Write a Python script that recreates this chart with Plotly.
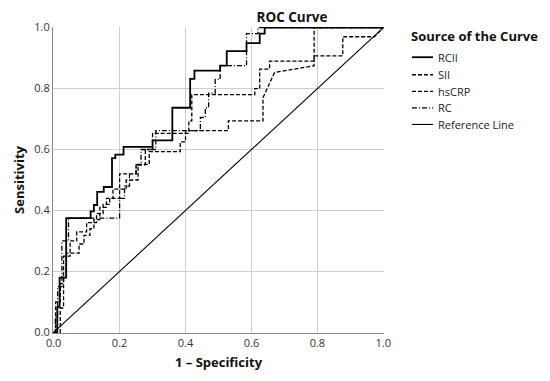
import plotly.graph_objects as go

# ROC step curves: (1 - specificity, sensitivity) vertices
rcii_x = [0, 0.011, 0.011, 0.018, 0.018, 0.038, 0.038, 0.112, 0.112, 0.122, 0.122, 0.132, 0.132, 0.152, 0.152,
          0.177, 0.177, 0.187, 0.187, 0.212, 0.212, 0.233, 0.233, 0.30, 0.30, 0.36, 0.36, 0.414, 0.414, 0.427,
          0.427, 0.505, 0.505, 0.525, 0.525, 0.585, 0.585, 0.625, 0.625, 0.64, 0.64, 1.0]
rcii_y = [0, 0, 0.084, 0.084, 0.18, 0.18, 0.375, 0.375, 0.397, 0.397, 0.418, 0.418, 0.461, 0.461, 0.477,
          0.477, 0.572, 0.572, 0.583, 0.583, 0.609, 0.609, 0.609, 0.609, 0.63, 0.63, 0.737, 0.737, 0.832, 0.832,
          0.859, 0.859, 0.875, 0.875, 0.923, 0.923, 0.949, 0.949, 0.98, 0.98, 1.0, 1.0]

sii_x = [0, 0.02, 0.02, 0.03, 0.03, 0.038, 0.038, 0.077, 0.077, 0.092, 0.092, 0.11, 0.11, 0.122, 0.122,
         0.14, 0.14, 0.16, 0.16, 0.18, 0.18, 0.20, 0.20, 0.25, 0.25, 0.278, 0.278, 0.30, 0.30, 0.41, 0.41,
         0.419, 0.419, 0.61, 0.61, 0.625, 0.625, 0.655, 0.655, 0.79, 0.79, 1.0]
sii_y = [0, 0, 0.08, 0.08, 0.18, 0.18, 0.26, 0.26, 0.29, 0.29, 0.318, 0.318, 0.34, 0.34, 0.37,
         0.37, 0.41, 0.41, 0.44, 0.44, 0.47, 0.47, 0.52, 0.52, 0.55, 0.55, 0.60, 0.60, 0.653, 0.653, 0.694,
         0.694, 0.78, 0.78, 0.80, 0.80, 0.864, 0.864, 0.89, 0.89, 1.0, 1.0]

hscrp_x = [0, 0.006, 0.006, 0.02, 0.02, 0.03, 0.03, 0.05, 0.05, 0.07, 0.07, 0.10, 0.10, 0.13, 0.13,
           0.15, 0.15, 0.17, 0.17, 0.20, 0.20, 0.22, 0.22, 0.256, 0.256, 0.29, 0.29, 0.384, 0.384, 0.40, 0.40,
           0.53, 0.53, 0.635, 0.635, 0.67, 0.79, 0.79, 0.877, 0.877, 0.973, 1.0]
hscrp_y = [0, 0, 0.10, 0.10, 0.16, 0.16, 0.25, 0.25, 0.30, 0.30, 0.33, 0.33, 0.36, 0.36, 0.39,
           0.39, 0.42, 0.42, 0.44, 0.44, 0.47, 0.47, 0.50, 0.50, 0.551, 0.551, 0.593, 0.593, 0.625, 0.625, 0.662,
           0.662, 0.694, 0.694, 0.77, 0.853, 0.875, 0.907, 0.907, 0.97, 0.97, 1.0]

rc_x = [0, 0.005, 0.005, 0.012, 0.012, 0.025, 0.025, 0.045, 0.045, 0.20, 0.20, 0.215, 0.215, 0.23, 0.23,
        0.25, 0.25, 0.265, 0.265, 0.31, 0.31, 0.445, 0.445, 0.46, 0.46, 0.47, 0.47, 0.49, 0.49, 0.505, 0.505,
        0.585, 0.585, 0.62, 0.62, 1.0]
rc_y = [0, 0, 0.05, 0.05, 0.15, 0.15, 0.30, 0.30, 0.375, 0.375, 0.44, 0.44, 0.48, 0.48, 0.52,
        0.52, 0.55, 0.55, 0.60, 0.60, 0.662, 0.662, 0.705, 0.705, 0.737, 0.737, 0.785, 0.785, 0.83, 0.83, 0.875,
        0.875, 0.98, 0.98, 1.0, 1.0]

ref_x = [0, 1]
ref_y = [0, 1]

tick_vals = [0, 0.2, 0.4, 0.6, 0.8, 1.0]
tick_text = ["0.0", "0.2", "0.4", "0.6", "0.8", "1.0"]

legend_title = "Source of the Curve"
series_names = ["RCII", "SII", "hsCRP", "RC", "Reference Line"]

FONT = "Open Sans"

styles = [
    dict(color="black", width=1.8),
    dict(color="black", width=1.3, dash="4px,2px"),
    dict(color="black", width=1.3, dash="4px,2px"),
    dict(color="black", width=1.3, dash="5px,2px,1px,2px"),
    dict(color="black", width=1.1),
]
xs = [rcii_x, sii_x, hscrp_x, rc_x, ref_x]
ys = [rcii_y, sii_y, hscrp_y, rc_y, ref_y]

fig = go.Figure()
for name, x, y, st in zip(series_names, xs, ys, styles):
    fig.add_trace(go.Scatter(x=x, y=y, mode="lines", name=name, line=st, showlegend=False))

# page is drawn with an 8px body margin; the plot area sits at page px x 53..384, y 19..333
PL, PR, PT, PB = 53, 384, 19, 333
W, H = 542, 373
OFF = 8


def px2x(px):
    return (px - PL) / (PR - PL)


def py2y(py):
    return (PB - py) / (PB - PT)


annotations = [dict(text="<b>" + legend_title + "</b>", xref="paper", yref="paper",
                    x=px2x(409), y=py2y(28), xanchor="left", yanchor="middle", showarrow=False,
                    font=dict(family=FONT, size=13, color="#111"))]
shapes = []
item_py = [50, 68, 85, 102, 119]
for name, st, py in zip(series_names, styles, item_py):
    shapes.append(dict(type="line", xref="paper", yref="paper",
                       x0=px2x(412), x1=px2x(433), y0=py2y(py), y1=py2y(py),
                       line=dict(color=st["color"], width=st["width"], dash=st.get("dash", "solid"))))
    annotations.append(dict(text=name, xref="paper", yref="paper", x=px2x(436), y=py2y(py),
                            xanchor="left", yanchor="middle", showarrow=False,
                            font=dict(family=FONT, size=11, color="#222")))

fig.update_layout(
    width=W, height=H,
    margin=dict(l=PL - OFF, r=W - (PR - OFF), t=PT - OFF, b=H - (PB - OFF)),
    paper_bgcolor="white", plot_bgcolor="white",
    font=dict(family=FONT, size=11, color="#222"),
    title=dict(text="<b>ROC Curve</b>", xref="container", yref="container",
               x=(292 - OFF) / W, xanchor="center", y=1 - (17 - OFF) / H, yanchor="middle",
               font=dict(family=FONT, size=13.5, color="#111")),
    showlegend=False,
    annotations=annotations,
    shapes=shapes,
)
fig.update_xaxes(range=[-0.002, 1.002], tickvals=tick_vals, ticktext=tick_text,
                 showgrid=True, gridcolor="#cfcfcf", gridwidth=1,
                 showline=True, linecolor="#888", linewidth=1, zeroline=False,
                 ticks="", tickfont=dict(size=11, color="#333"),
                 title=dict(text="<b>1 – Specificity</b>", font=dict(size=13, color="#111"), standoff=8))
fig.update_yaxes(range=[-0.002, 1.002], tickvals=tick_vals, ticktext=tick_text,
                 showgrid=True, gridcolor="#cfcfcf", gridwidth=1,
                 showline=True, linecolor="#888", linewidth=1, zeroline=False,
                 ticks="", tickfont=dict(size=11, color="#333"),
                 title=dict(text="<b>Sensitivity</b>", font=dict(size=13, color="#111"), standoff=6))

fig.write_html("out.html")
